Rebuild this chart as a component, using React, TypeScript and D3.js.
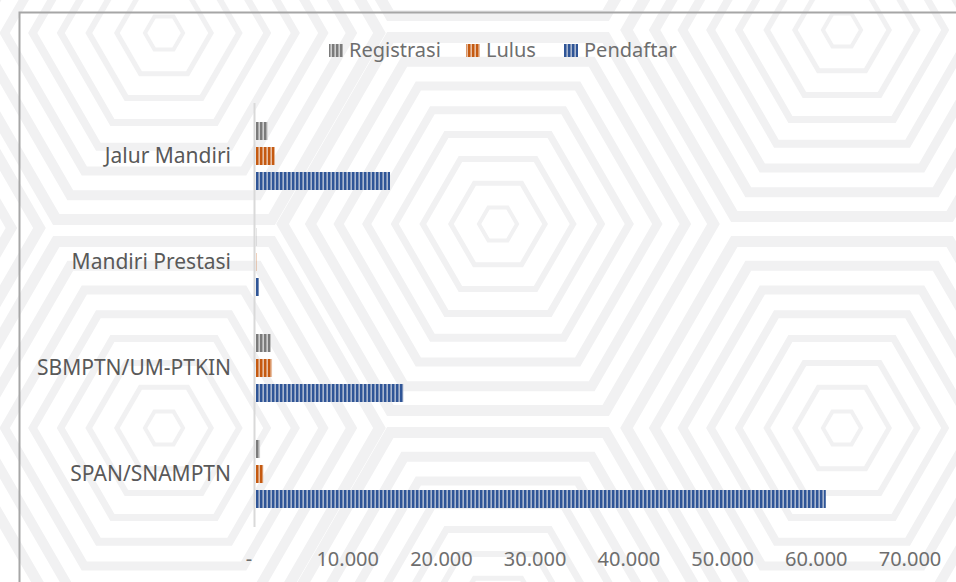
import { useEffect, useRef } from "react";
import * as d3 from "d3";

// categories top -> bottom
const categories = ["Jalur Mandiri", "Mandiri Prestasi", "SBMPTN/UM-PTKIN", "SPAN/SNAMPTN"];
const seriesNames = ["Registrasi", "Lulus", "Pendaftar"];

// values per category (same order as categories)
const registrasi = [1250, 20, 1570, 430];
const lulus = [2000, 30, 1710, 780];
const pendaftar = [14300, 320, 15720, 60800];

const xTicks = [0, 10000, 20000, 30000, 40000, 50000, 60000, 70000];

const seriesColors: Record<string, { dark: string; light: string }> = {
  Registrasi: { dark: "#7b7b7b", light: "#cfcfcf" },
  Lulus: { dark: "#c55a11", light: "#e8bfa3" },
  Pendaftar: { dark: "#2f5597", light: "#aab7cf" },
};

const W = 956;
const H = 582;
const FONT = "'Noto Sans', sans-serif";

// background hexagon centres (decoration)
const hexCentres: [number, number][] = [
  [164, 33], [164, 428], [498, 224], [842, 30], [842, 428],
  [-176, 228], [1184, 228], [498, -171], [498, 619],
];

const fmt = (v: number) => (v === 0 ? "-" : d3.format(",")(v).replace(/,/g, "."));

const App = () => {
  const svgRef = useRef<SVGSVGElement>(null);

  useEffect(() => {
    if (!svgRef.current) return;
    const svg = d3.select(svgRef.current);
    svg.selectAll("*").remove();

    // stripe patterns
    const defs = svg.append("defs");
    seriesNames.forEach((s) => {
      const p = defs
        .append("pattern")
        .attr("id", `pat-${s}`)
        .attr("patternUnits", "userSpaceOnUse")
        .attr("width", 4)
        .attr("height", 4);
      p.append("rect").attr("width", 4).attr("height", 4).attr("fill", seriesColors[s].light);
      p.append("rect").attr("width", 2.4).attr("height", 4).attr("fill", seriesColors[s].dark);
    });

    svg.append("rect").attr("width", W).attr("height", H).attr("fill", "#ffffff");

    // concentric hexagon background
    const bg = svg.append("g").attr("fill", "none").attr("stroke", "#f1f1f2");
    hexCentres.forEach(([cx, cy]) => {
      for (let k = 0; k < 8; k++) {
        const a = 16.5 + 24.3 * k;
        const R = a / (Math.sqrt(3) / 2);
        const pts = d3.range(6).map((i) => {
          const t = (Math.PI / 3) * i;
          return [cx + R * Math.cos(t), cy + R * Math.sin(t)] as [number, number];
        });
        bg.append("path")
          .attr("d", d3.line()(pts) + "Z")
          .attr("stroke-width", 4 + k)
          .attr("stroke-linejoin", "miter");
      }
    });

    // chart frame
    svg.append("rect")
      .attr("x", 19.5)
      .attr("y", 12.5)
      .attr("width", 1000)
      .attr("height", 1000)
      .attr("fill", "none")
      .attr("stroke", "#a6a6a6")
      .attr("stroke-width", 2);

    const x = d3.scaleLinear().domain([0, 70000]).range([256, 912]);
    const y0 = d3.scaleBand().domain(categories).range([103, 527]);
    const y1 = d3.scaleBand().domain(seriesNames).range([19, 87]).paddingInner(0.28);

    const values: Record<string, number[]> = {
      Registrasi: registrasi,
      Lulus: lulus,
      Pendaftar: pendaftar,
    };

    // bars
    const groups = svg
      .append("g")
      .selectAll("g")
      .data(categories)
      .join("g")
      .attr("transform", (d) => `translate(0,${y0(d)})`);

    groups
      .selectAll("rect")
      .data((c, ci) => seriesNames.map((s) => ({ s, v: values[s][ci] })))
      .join("rect")
      .attr("x", x(0))
      .attr("y", (d) => y1(d.s) as number)
      .attr("width", (d) => x(d.v) - x(0))
      .attr("height", y1.bandwidth())
      .attr("fill", (d) => `url(#pat-${d.s})`);

    // vertical axis line
    svg.append("line")
      .attr("x1", 254.5)
      .attr("x2", 254.5)
      .attr("y1", 103)
      .attr("y2", 527)
      .attr("stroke", "#d9d9d9")
      .attr("stroke-width", 2);

    // category labels
    svg.append("g")
      .selectAll("text")
      .data(categories)
      .join("text")
      .attr("x", 231)
      .attr("y", (d) => (y0(d) as number) + y0.bandwidth() / 2 + 7)
      .attr("text-anchor", "end")
      .attr("font-family", FONT)
      .attr("font-size", 21)
      .attr("fill", "#595959")
      .text((d) => d);

    // x tick labels
    svg.append("g")
      .selectAll("text")
      .data(xTicks)
      .join("text")
      .attr("x", (d) => x(d) + (d === 0 ? -7 : -2))
      .attr("y", 566)
      .attr("text-anchor", "middle")
      .attr("font-family", FONT)
      .attr("font-size", 20)
      .attr("fill", "#6e6e6e")
      .text((d) => fmt(d));

    // legend
    const legendX = [329, 466, 564];
    const lg = svg.append("g");
    seriesNames.forEach((s, i) => {
      lg.append("rect")
        .attr("x", legendX[i])
        .attr("y", 44)
        .attr("width", 14)
        .attr("height", 13)
        .attr("fill", `url(#pat-${s})`);
      lg.append("text")
        .attr("x", legendX[i] + 20)
        .attr("y", 57)
        .attr("font-family", FONT)
        .attr("font-size", 20)
        .attr("fill", "#6e6e6e")
        .text(s);
    });
  }, []);

  return (
    <svg
      ref={svgRef}
      width={W}
      height={H}
      style={{ position: "absolute", left: 0, top: 0, display: "block" }}
    ></svg>
  );
};

export default App;
